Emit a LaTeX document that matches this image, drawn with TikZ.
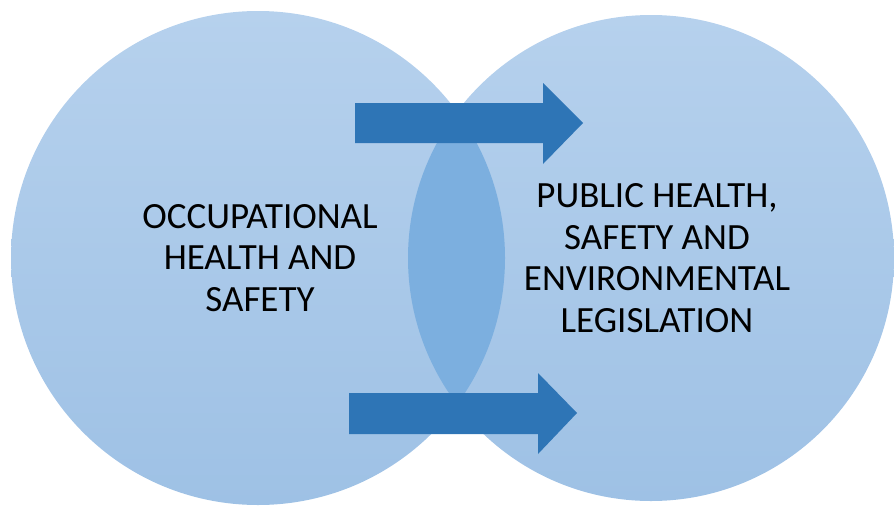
\documentclass[tikz,border=0pt]{standalone}
\usepackage{fontspec}
\setmainfont{Carlito}
\usepackage{tikz}

\definecolor{circtop}{RGB}{182,209,237}
\definecolor{circbot}{RGB}{158,193,229}
\definecolor{lensblue}{RGB}{124,175,223}
\definecolor{arrowblue}{RGB}{46,117,182}

\tikzset{
	area/.style={shape=circle, inner sep=0pt, top color=circtop, bottom color=circbot, draw=none},
	lens/.style={fill=lensblue},
	blockarrow/.style={fill=arrowblue},
	label/.style={align=center, font=\fontsize{37}{41.5}\selectfont, text=black}
}

\begin{document}
\begin{tikzpicture}[x=1pt, y=-1pt]
	
	\useasboundingbox (0, 0) rectangle (894, 506);
	
	\node[area, minimum size=494pt] (occ) at (258, 258) {};
	\node[area, minimum size=486pt] (pub) at (651, 258) {};
	
	\begin{scope}
		\clip (occ.center) circle (247);
		\fill[lens] (pub.center) circle (243);
	\end{scope}
	
	\node[label] (occtext) at (260, 258) {OCCUPATIONAL\\HEALTH AND\\SAFETY};
	\node[label] (pubtext) at (657, 258) {PUBLIC HEALTH,\\SAFETY AND\\ENVIRONMENTAL\\LEGISLATION};
	
	\fill[blockarrow] (355, 103) -- (543, 103) -- (543, 83) -- (583, 123) -- (543, 164) -- (543, 143) -- (355, 143) -- cycle;
	\fill[blockarrow] (349, 393) -- (538, 393) -- (538, 373) -- (577, 413) -- (538, 454) -- (538, 434) -- (349, 434) -- cycle;
	
\end{tikzpicture}
\end{document}
